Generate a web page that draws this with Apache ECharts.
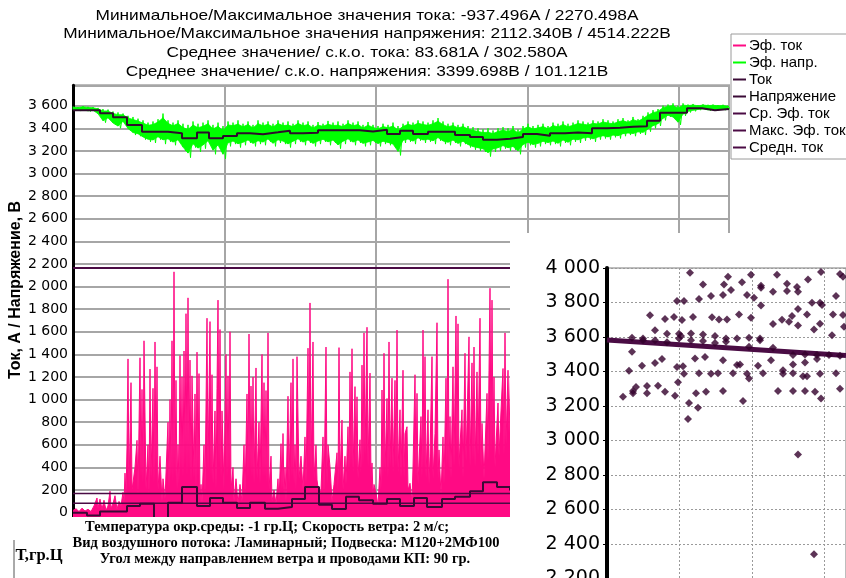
<!DOCTYPE html>
<html><head><meta charset="utf-8">
<script src="https://cdn.jsdelivr.net/npm/echarts@6/dist/echarts.min.js"></script>
<style>html,body{margin:0;padding:0;background:#fff}#c{width:846px;height:578px}</style>
</head><body><div id="c"></div>
<script>
// ---------------- DATA ----------------
const titleLines = [
  'Минимальное/Максимальное значения тока: -937.496А / 2270.498А',
  'Минимальное/Максимальное значения напряжения: 2112.340В / 4514.222В',
  'Среднее значение/ с.к.о. тока: 83.681А / 302.580А',
  'Среднее значение/ с.к.о. напряжения: 3399.698В / 101.121В'
];
const infoLines = [
  'Температура окр.среды: -1 гр.Ц; Скорость ветра: 2 м/с;',
  'Вид воздушного потока: Ламинарный; Подвеска: М120+2МФ100',
  'Угол между направлением ветра и проводами КП: 90 гр.'
];
const tempLabel = 'Т,гр.Ц';
const yAxisTitle = 'Ток, А / Напряжение, В';
const legendNames = ['Эф. ток', 'Эф. напр.', 'Ток', 'Напряжение', 'Ср. Эф. ток', 'Макс. Эф. ток', 'Средн. ток'];

// effective current [time, A]
const curPoints = [
[0,20],[3,35],[6,10],[9,40],[12,15],[15,30],[18,10],[21,60],[24,130],[25,40],[27,120],[29,30],[31,110],[33,20],[35,60],[37,190],[38,40],[40,80],[42,150],[44,30],[46,100],[48,60],[50,180],[51,90],
[52,350],[53,150],[54,580],[55,1360],[56,200],[58,1150],[59,200],[62,400],[64,640],[65,150],[67,1370],[68,300],[69,1090],[70,250],[71,1520],[73,200],[75,600],[76,150],[77,1270],[78,300],[80,1100],[81,250],[82,1510],[83,400],[84,1290],[85,200],[87,500],[89,100],[90,300],[92,120],[95,800],[96,200],[97,1000],[98,300],[99,1520],[100,250],[101,2130],[102,300],[103,1170],[104,200],[105,600],[106,250],[107,1390],[108,350],[109,1200],[110,300],[111,1430],[112,400],[113,1760],[114,300],[115,1900],[116,350],[117,1350],[118,250],[119,1210],[121,300],[122,1050],[123,200],[124,1420],[125,300],[126,1230],[127,100],[128,250],[129,80],[131,600],[132,150],[134,1720],[135,350],[137,1690],[138,300],[139,1220],[140,250],[142,900],[143,200],[144,1100],[145,1880],[146,400],[147,1620],[148,300],[149,900],[151,200],[153,1400],[154,300],[155,1210],[156,350],[157,1600],[158,200],[160,400],[161,100],[163,300],[165,80],[167,250],[169,100],[171,600],[172,150],[174,1050],[175,300],[176,1580],[177,350],[178,1120],[179,300],[180,1200],[181,250],[183,1280],[184,300],[186,800],[187,250],[189,1400],[190,300],[191,1150],[192,300],[193,1080],[194,250],[195,1590],[196,200],[198,500],[199,100],[201,200],[203,80],[205,300],[206,100],[208,610],[209,200],[210,700],[211,150],[212,400],[213,100],[215,1030],[216,250],[218,1150],[219,300],[220,1360],[221,250],[222,600],[223,200],[224,1380],[226,300],[228,500],[230,200],[232,670],[233,250],[235,1455],[236,400],[237,1855],[238,350],[240,1510],[241,300],[243,600],[244,290],[246,150],[248,200],[250,670],[251,150],[253,1465],[254,250],[255,600],[257,405],[259,100],[261,250],[264,530],[265,200],[266,1460],[267,300],[269,820],[270,200],[272,500],[273,250],[275,760],[276,350],[277,1245],[278,400],[279,1450],[280,350],[282,1115],[283,400],[284,1025],[285,300],[287,645],[288,350],[289,1305],[290,400],[291,1590],[292,500],[294,1640],[295,400],[297,1235],[298,300],[299,440],[300,150],[301,250],[303,175],[305,60],[307,400],[308,200],[309,1085],[310,300],[311,1410],[312,350],[314,1010],[315,300],[316,1510],[317,400],[319,1190],[320,350],[322,1170],[323,400],[324,1615],[325,350],[327,910],[328,300],[330,1260],[331,300],[332,700],[334,760],[335,200],[337,260],[339,100],[340,400],[342,1220],[343,300],[344,1055],[345,250],[348,850],[349,300],[350,1615],[351,350],[352,1380],[353,300],[355,910],[356,250],[357,500],[359,1380],[360,300],[362,700],[364,1680],[365,300],[366,555],[368,150],[370,670],[371,250],[373,1190],[374,400],[375,2065],[376,350],[377,850],[378,300],[380,1290],[381,400],[383,1740],[384,500],[385,1670],[386,400],[387,600],[389,910],[390,300],[392,1410],[393,450],[394,800],[396,1555],[397,400],[399,1325],[400,450],[401,1465],[402,400],[404,1245],[405,500],[407,1720],[408,400],[409,790],[411,300],[414,1055],[415,450],[416,1260],[417,1985],[418,500],[419,1880],[420,600],[421,1200],[422,400],[423,600],[425,970],[426,500],[428,900],[430,1275],[431,500],[432,1590],[433,600],[435,1260],[436,700],[438,1400],[440,500]
];

// effective voltage: sampled upper / lower values every voltStep time units
const voltStep = 5;
const voltHi = [3592,3588,3595,3590,3586,3580,3570,3565,3548,3540,3530,3510,3500,3485,3470,3450,3460,3480,3530,3470,3450,3470,3440,3430,3460,3440,3450,3470,3430,3450,3420,3460,3450,3470,3440,3460,3430,3470,3450,3460,3440,3470,3450,3460,3440,3470,3450,3460,3430,3455,3440,3465,3450,3460,3440,3470,3450,3460,3430,3455,3430,3420,3440,3430,3450,3420,3440,3460,3450,3470,3460,3450,3470,3490,3460,3440,3450,3430,3440,3420,3410,3400,3390,3400,3380,3400,3410,3400,3420,3390,3420,3440,3420,3430,3440,3420,3450,3440,3460,3440,3450,3470,3460,3450,3470,3460,3480,3470,3460,3480,3490,3470,3500,3480,3510,3540,3560,3570,3600,3610,3620,3600,3620,3610,3615,3605,3612,3608,3610,3605,3608,3600];
const voltLo = [3560,3552,3558,3548,3555,3520,3450,3480,3430,3400,3450,3380,3340,3330,3300,3280,3270,3300,3260,3280,3250,3270,3200,3140,3230,3190,3220,3260,3170,3220,3130,3240,3260,3230,3250,3270,3240,3260,3250,3280,3240,3270,3260,3230,3260,3280,3250,3270,3240,3260,3280,3250,3270,3220,3260,3280,3250,3270,3240,3250,3270,3240,3260,3250,3230,3160,3270,3280,3260,3290,3270,3280,3260,3290,3260,3250,3270,3240,3260,3230,3210,3200,3190,3150,3190,3200,3220,3200,3210,3170,3230,3250,3230,3240,3260,3250,3260,3240,3270,3250,3280,3270,3290,3300,3280,3300,3310,3300,3320,3310,3330,3340,3330,3350,3340,3370,3400,3420,3470,3500,3480,3430,3510,3540,3550,3560,3565,3555,3560,3565,3560,3562];

// voltage interval means (step line) [time, V]
const voltMeans = [[0,3560],[27,3532],[40,3497],[54,3429],[69,3370],[95,3355],[109,3311],[124,3362],[136,3311],[150,3332],[164,3355],[177,3347],[190,3364],[205,3379],[217,3357],[230,3361],[245,3383],[287,3372],[300,3387],[314,3350],[327,3377],[340,3350],[355,3370],[382,3340],[397,3322],[410,3298],[424,3307],[437,3322],[450,3350],[464,3333],[477,3357],[492,3363],[505,3357],[519,3400],[534,3405],[547,3413],[560,3418],[574,3467],[587,3538],[614,3576],[629,3560],[642,3570],[656,3570]];
// current interval means (step line) [time, A]
const curMeans = [[0,0],[14,-25],[27,10],[54,60],[67,78],[81,-80],[95,87],[109,227],[124,60],[137,130],[150,87],[164,42],[177,87],[192,35],[205,50],[219,120],[232,227],[246,70],[259,33],[273,140],[286,110],[300,78],[314,120],[327,60],[341,130],[354,50],[369,120],[382,140],[397,190],[410,270],[424,227],[437,200],[450,200]];

const avgEffCurrent = 170;
const maxEffCurrent = 2165;
const avgCurrent = 84;
const timeMax = 656;

// inset scatter: [x, V]
const scatterPts = [
[83,3973],[121,3950],[144,3961],[170,3961],[214,3977],[233,3965],[236,3950],
[96,3905],[117,3905],[135,3917],[116,3843],[124,3872],[154,3897],[154,3886],[180,3909],[190,3890],[191,3863],[201,3934],[140,3843],[147,3828],[166,3863],[180,3867],
[70,3809],[77,3809],[92,3820],[104,3838],[154,3782],[166,3675],[175,3700],[182,3688],[185,3722],[191,3762],[191,3666],[200,3731],[205,3799],[207,3644],[213,3799],[215,3786],[213,3677],[226,3731],[229,3838],[236,3727],[237,3660],
[43,3726],[58,3704],[67,3716],[75,3699],[86,3716],[105,3714],[112,3701],[120,3701],[132,3731],[144,3712],
[25,3596],[36,3592],[36,3581],[48,3639],[48,3581],[60,3619],[60,3569],[72,3619],[72,3592],[74,3606],[84,3621],[84,3581],[96,3615],[96,3577],[108,3606],[108,3565],[119,3592],[119,3573],[130,3592],[142,3596],[142,3544],[153,3592],[153,3581],[166,3538],[186,3495],[198,3499],[210,3472],[210,3495],[222,3495],[233,3491],[225,3610],
[25,3515],[22,3404],[35,3433],[48,3449],[55,3472],[70,3426],[76,3430],[77,3387],[88,3476],[98,3484],[92,3390],[104,3387],[111,3390],[116,3465],[126,3390],[130,3437],[133,3441],[140,3387],[142,3360],[151,3433],[156,3390],[164,3465],[176,3407],[176,3387],[186,3390],[186,3441],[196,3372],[200,3372],[198,3452],[213,3387],[229,3390],
[16,3254],[26,3287],[26,3274],[29,3310],[40,3316],[40,3274],[51,3318],[58,3282],[68,3260],[71,3337],[82,3217],[89,3274],[99,3282],[116,3287],[136,3229],[171,3287],[186,3287],[198,3287],[208,3282],[214,3244],[233,3300],
[81,3124],[91,3190],[191,2919],[207,2341]
];
const trendX = [0, 239];
const trendY = [3582, 3492];

// ---------------- BUILD ----------------
function measure(text, font) {
  const ctx = document.createElement('canvas').getContext('2d');
  ctx.font = font; return ctx.measureText(text).width;
}
function fmtNum(v) {
  if (v < 0) return '';
  if (v >= 1000) { const r = v % 1000; return Math.floor(v / 1000) + ' ' + String(r).padStart(3, '0'); }
  return String(v);
}
// voltage: solid core band (inner part of each sample range) + thin zigzag reaching the sampled extremes
const coreShare = 0.72;
const voltBand = [];
for (let i = 0; i < voltHi.length - 1; i++) {
  voltBand.push([i * voltStep, voltHi[i], voltLo[i], (i + 1) * voltStep, voltHi[i + 1], voltLo[i + 1]]);
}
function renderBand(params, api) {
  const core = (h, l) => { const m = (h + l) / 2, r = (h - l) / 2 * coreShare; return [m + r, m - r]; };
  const c0 = core(api.value(1), api.value(2));
  const c1 = core(api.value(4), api.value(5));
  const a = api.coord([api.value(0), c0[0]]);
  const b = api.coord([api.value(3), c1[0]]);
  const c = api.coord([api.value(3), c1[1]]);
  const d = api.coord([api.value(0), c0[1]]);
  return { type: 'polygon', shape: { points: [a, b, c, d] }, style: { fill: '#00ff00', stroke: '#00ff00', lineWidth: 0.8 } };
}
const voltZigzag = [];
voltHi.forEach((h, i) => { voltZigzag.push([i * voltStep, h]); voltZigzag.push([i * voltStep + voltStep / 2, voltLo[i]]); });

const titleFont = '15px "Liberation Sans"';
const titleScale = 543 / measure(titleLines[0], titleFont);
const infoFont = 'bold 14px "Liberation Serif"';
const infoScale = 427 / measure(infoLines[1], infoFont);
const titleY = [16, 34, 53, 72];
const infoPos = [[267, 527], [286, 543], [285, 559]];

const graphics = [];
titleLines.forEach((t, i) => graphics.push({ type: 'text', x: 367, y: titleY[i], scaleX: titleScale, z: 100,
  style: { text: t, x: 0, y: 0, font: titleFont, fill: '#000', textAlign: 'center', textVerticalAlign: 'middle' } }));
graphics.push({ type: 'text', x: 16, y: 290, rotation: Math.PI / 2, z: 100,
  style: { text: yAxisTitle, x: 0, y: 0, font: 'bold 16px "Liberation Sans"', fill: '#000', textAlign: 'center', textVerticalAlign: 'middle' } });
// bottom info box
graphics.push({ type: 'rect', shape: { x: 0, y: 517, width: 515, height: 61 }, style: { fill: '#fff' }, z: 90 });
infoLines.forEach((t, i) => graphics.push({ type: 'text', x: infoPos[i][0], y: infoPos[i][1], scaleX: infoScale, z: 100,
  style: { text: t, x: 0, y: 0, font: infoFont, fill: '#000', textAlign: 'center', textVerticalAlign: 'middle' } }));
graphics.push({ type: 'line', shape: { x1: 14, y1: 540, x2: 14, y2: 578 }, style: { stroke: '#555', lineWidth: 1 }, z: 100 });
graphics.push({ type: 'text', x: 39, y: 556, scaleX: infoScale, z: 100,
  style: { text: tempLabel, x: 0, y: 0, font: 'bold 16px "Liberation Serif"', fill: '#000', textAlign: 'center', textVerticalAlign: 'middle' } });
// inset panel background
graphics.push({ type: 'rect', shape: { x: 510, y: 233, width: 336, height: 345 }, style: { fill: '#fff' }, z: 90 });

const gridLine = { show: true, lineStyle: { color: '#a6a6a6', width: 2 } };
const dotted = { show: true, lineStyle: { color: '#9a9a9a', width: 1, type: [2, 2] } };

const option = {
  animation: false,
  backgroundColor: '#fff',
  graphic: { elements: graphics },
  legend: {
    data: legendNames, orient: 'vertical', left: 731, top: 34,
    padding: [3, 40, 3, 2], itemGap: 0, itemWidth: 13, itemHeight: 2, icon: 'rect',
    backgroundColor: '#fff', borderColor: '#9a9a9a', borderWidth: 1, borderRadius: 0,
    textStyle: { fontFamily: 'Liberation Sans', fontSize: 15, color: '#000', lineHeight: 17, padding: [0, 0, 0, -2] },
    z: 100
  },
  grid: [
    { left: 73, top: 85.3, width: 656, height: 450, show: true, borderColor: '#a6a6a6', borderWidth: 2, backgroundColor: 'transparent', outerBoundsMode: 'none' },
    { left: 607, top: 268, width: 239, height: 310.5, show: true, borderColor: '#7a7a7a', borderWidth: 1, backgroundColor: 'transparent', z: 95, outerBoundsMode: 'none' }
  ],
  xAxis: [
    { type: 'value', gridIndex: 0, min: 0, max: timeMax, interval: 151.5, axisLine: { show: false }, axisTick: { show: false }, axisLabel: { show: false }, splitLine: gridLine },
    { type: 'value', gridIndex: 1, min: 0, max: 239, interval: 72.5, axisLine: { show: false }, axisTick: { show: false }, axisLabel: { show: false }, splitLine: dotted, z: 95 }
  ],
  yAxis: [
    { type: 'value', gridIndex: 0, min: -200, max: 3780, interval: 200,
      axisLine: { show: true, lineStyle: { color: '#000', width: 3 } }, axisTick: { show: false },
      axisLabel: { formatter: v => (v % 200 === 0 ? fmtNum(v) : ''), fontFamily: 'DejaVu Sans', fontSize: 14, color: '#000', margin: 5 },
      splitLine: gridLine },
    { type: 'value', gridIndex: 1, min: 2200, max: 4000, interval: 200, z: 96,
      axisLine: { show: true, lineStyle: { color: '#000', width: 4 } },
      axisTick: { show: true, length: 4, lineStyle: { color: '#000' } },
      minorTick: { show: true, splitNumber: 4, length: 2, lineStyle: { color: '#000' } },
      axisLabel: { formatter: v => fmtNum(v), fontFamily: 'DejaVu Sans', fontSize: 19, color: '#000', margin: 7 },
      splitLine: dotted }
  ],
  series: [
    { name: 'Эф. ток', type: 'line', data: curPoints, symbol: 'none', color: '#ff0a84',
      lineStyle: { width: 1, color: '#ff0a84' }, areaStyle: { color: '#ff0a84', opacity: 1, origin: 'start' }, z: 3 },
    { name: 'Эф. напр.', type: 'custom', data: voltBand, renderItem: renderBand, color: '#00ff00',
      itemStyle: { color: '#00ff00' }, encode: { x: [0, 3], y: [1, 2, 4, 5] }, z: 3 },
    { name: 'Эф. напр.', type: 'line', data: voltZigzag, symbol: 'none', color: '#00ff00',
      lineStyle: { width: 1, color: '#00ff00' }, z: 3 },
    { name: 'Ток', type: 'line', step: 'end', data: curMeans, symbol: 'none', color: '#3a0a36',
      lineStyle: { width: 2, color: '#3a0a36' }, z: 6 },
    { name: 'Напряжение', type: 'line', step: 'end', data: voltMeans, symbol: 'none', color: '#3a0a36',
      lineStyle: { width: 2, color: '#2e0c2c' }, z: 6 },
    { name: 'Ср. Эф. ток', type: 'line', data: [[0, avgEffCurrent], [timeMax, avgEffCurrent]], symbol: 'none', color: '#4a0b44',
      lineStyle: { width: 1.5, color: '#4a0b44' }, z: 5 },
    { name: 'Макс. Эф. ток', type: 'line', data: [[0, maxEffCurrent], [timeMax, maxEffCurrent]], symbol: 'none', color: '#4a0b44',
      lineStyle: { width: 2, color: '#4a0b44' }, z: 5 },
    { name: 'Средн. ток', type: 'line', data: [[0, avgCurrent], [timeMax, avgCurrent]], symbol: 'none', color: '#4a0b44',
      lineStyle: { width: 1.5, color: '#4a0b44' }, z: 5 },
    { name: 'inset', type: 'scatter', xAxisIndex: 1, yAxisIndex: 1, data: scatterPts, symbol: 'diamond', symbolSize: 8,
      itemStyle: { color: '#33002c', borderWidth: 0 }, z: 110 },
    { name: 'trend', type: 'line', xAxisIndex: 1, yAxisIndex: 1, data: trendX.map((x, i) => [x, trendY[i]]), symbol: 'none',
      lineStyle: { width: 5, color: '#4a0c44' }, z: 108 }
  ]
};
const chart = echarts.init(document.getElementById('c'), null, { renderer: 'canvas' });
chart.setOption(option);
</script>
</body></html>
